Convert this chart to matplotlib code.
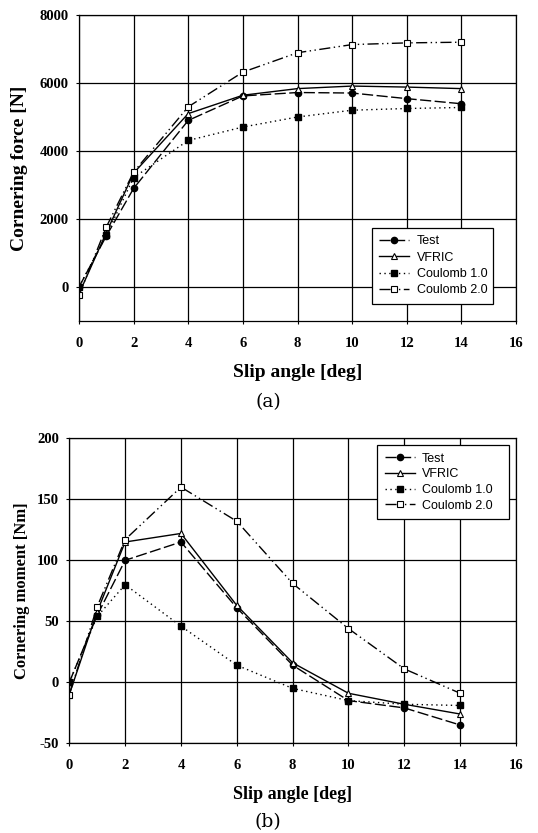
import matplotlib
matplotlib.use("Agg")
import matplotlib.pyplot as plt

plt.rcParams["axes.unicode_minus"] = False

slip = [0, 1, 2, 4, 6, 8, 10, 12, 14]

# (a) Cornering force [N]
force_test = [0, 1500, 2900, 4900, 5620, 5720, 5705, 5540, 5390]
force_vfric = [-200, 1600, 3350, 5100, 5640, 5835, 5910, 5880, 5835]
force_coul1 = [0, 1520, 3220, 4310, 4705, 5000, 5200, 5250, 5280]
force_coul2 = [-240, 1765, 3380, 5300, 6320, 6890, 7130, 7180, 7200]

# (b) Cornering moment [Nm]
moment_test = [0, 55, 100, 115, 61, 14, -15, -21, -35]
moment_vfric = [-10, 58, 115, 122, 63, 16, -9, -18, -26]
moment_coul1 = [0, 54, 80, 46, 14, -5, -15, -18, -19]
moment_coul2 = [-10, 62, 117, 160, 132, 81, 44, 11, -9]

labels = ["Test", "VFRIC", "Coulomb 1.0", "Coulomb 2.0"]
force_yticks = [0, 2000, 4000, 6000, 8000]
moment_yticks = [-50, 0, 50, 100, 150, 200]
xticks = [0, 2, 4, 6, 8, 10, 12, 14, 16]

W, H = 538, 833
fig = plt.figure(figsize=(W / 100, H / 100), dpi=100)

def ax_rect(l, r, t, b):
    return [l / W, 1 - b / H, (r - l) / W, (b - t) / H]

serif_b = dict(family="Liberation Serif", weight="bold")

styles = [
    dict(color="black", lw=1.0, dashes=(8, 2.5), marker="o", mfc="black", mec="black", ms=4.5),
    dict(color="black", lw=1.0, ls="-", marker="^", mfc="white", mec="black", ms=4.5, mew=0.8),
    dict(color="black", lw=1.0, dashes=(1, 2.5), marker="s", mfc="black", mec="black", ms=4),
    dict(color="black", lw=1.0, dashes=(8, 2.5, 1, 2.5, 1, 2.5), marker="s", mfc="white", mec="black", ms=4.5, mew=0.8),
]

def setup(ax, yticks, ylim, ylabel, xfs, yfs, ypad):
    ax.set_xlim(0, 16)
    ax.set_ylim(*ylim)
    ax.set_xticks(xticks)
    ax.set_yticks(yticks)
    ax.grid(True, color="black", lw=0.9)
    ax.set_axisbelow(True)
    for s in ax.spines.values():
        s.set_linewidth(0.9)
    ax.tick_params(direction="out", length=2.5, width=0.8, pad=9)
    ax.tick_params(axis="y", pad=5)
    for lab in ax.get_xticklabels() + ax.get_yticklabels():
        lab.set_fontfamily("Liberation Serif")
        lab.set_fontweight("bold")
        lab.set_fontsize(10.5)
    ax.set_xlabel("Slip angle [deg]", fontsize=xfs, labelpad=10, **serif_b)
    ax.set_ylabel(ylabel, fontsize=yfs, labelpad=ypad, **serif_b)

# Top axes
ax1 = fig.add_axes(ax_rect(79, 516, 15, 321))
for ys, lab, st in zip([force_test, force_vfric, force_coul1, force_coul2], labels, styles):
    ax1.plot(slip, ys, label=lab, **st)
setup(ax1, force_yticks, (-1000, 8000), "Cornering force [N]", 14, 14, 8)
leg1 = ax1.legend(loc="lower left", bbox_to_anchor=(0.670, 0.056, 0.277, 0.251), mode="expand",
                  prop=dict(family="Liberation Sans", size=9), frameon=True, fancybox=False,
                  edgecolor="black", framealpha=1, handlelength=2.4, labelspacing=0.35,
                  borderpad=0.6, handletextpad=0.6, borderaxespad=0)
leg1.get_frame().set_linewidth(0.9)

# Bottom axes
ax2 = fig.add_axes(ax_rect(69.3, 516, 438.3, 743.3))
for ys, lab, st in zip([moment_test, moment_vfric, moment_coul1, moment_coul2], labels, styles):
    ax2.plot(slip, ys, label=lab, **st)
setup(ax2, moment_yticks, (-50, 200), "Cornering moment [Nm]", 13, 12, 5)
leg2 = ax2.legend(loc="upper left", bbox_to_anchor=(0.689, 0.726, 0.295, 0.252), mode="expand",
                  prop=dict(family="Liberation Sans", size=9), frameon=True, fancybox=False,
                  edgecolor="black", framealpha=1, handlelength=2.4, labelspacing=0.3,
                  borderpad=0.6, handletextpad=0.6, borderaxespad=0)
leg2.get_frame().set_linewidth(0.9)

fig.text(268 / W, 1 - 402 / H, "(a)", ha="center", va="center", family="DejaVu Serif", fontsize=13.5)
fig.text(268 / W, 1 - 822 / H, "(b)", ha="center", va="center", family="DejaVu Serif", fontsize=13.5)

fig.savefig("out.png", dpi=100)
